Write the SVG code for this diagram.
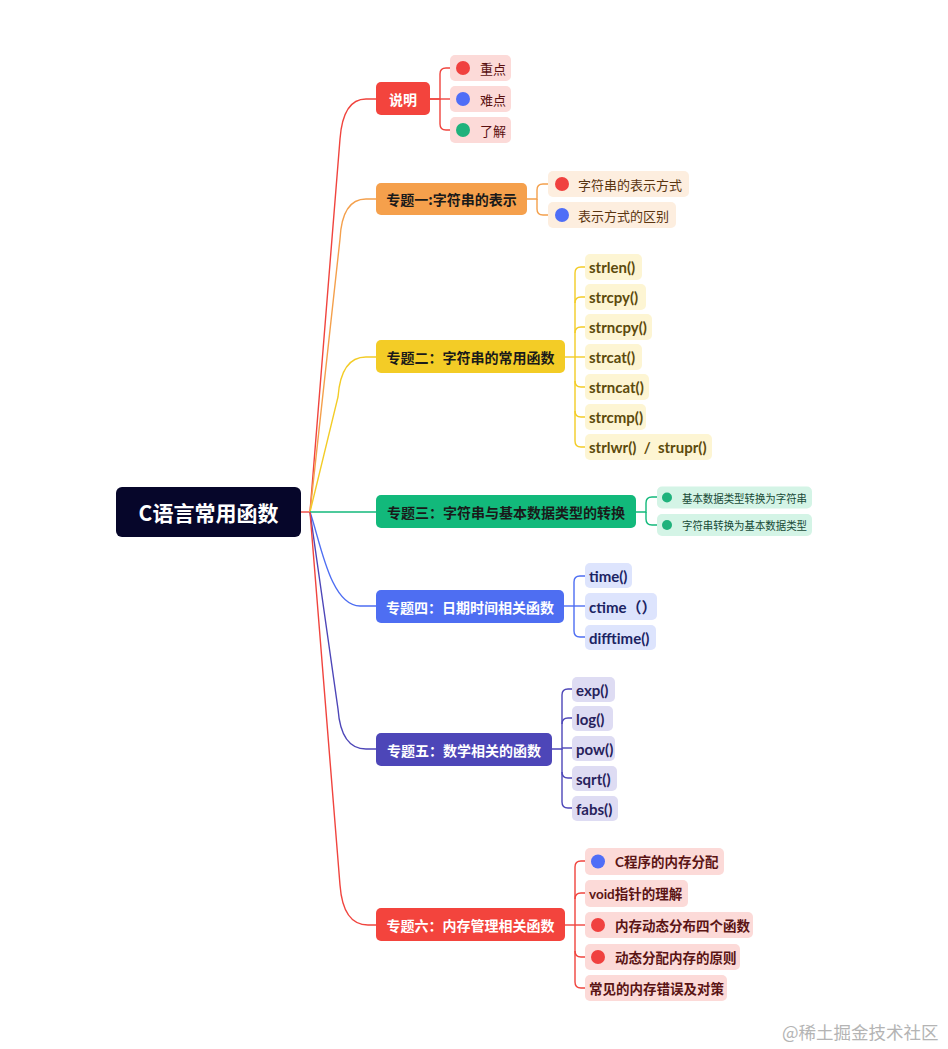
<svg xmlns="http://www.w3.org/2000/svg" width="948" height="1049" viewBox="0 0 948 1049">
<style>
.cjk{font-family:"Noto Sans CJK SC",sans-serif}
.lat{font-family:Lato,"Noto Sans CJK SC",sans-serif}
text{dominant-baseline:central}
.bt{font-size:14px;font-weight:700;text-anchor:middle}
.ct{font-size:13px}
.fn{font-size:15px;font-weight:700}
.ln{fill:none;stroke-width:1.4}
</style>
<rect width="948" height="1049" fill="#ffffff"/>
<g id="connectors">
  <path class="ln" stroke="#f0443e" d="M301 512 L310 512"/>
  <path class="ln" stroke="#f0443e" d="M310 512 L340 139 Q343 99 366 99 L376 99"/>
  <path class="ln" stroke="#f4a04c" d="M310 512 L340 239 Q342 199 366 199 L376 199"/>
  <path class="ln" stroke="#f3cc26" d="M310 512 L338 397 Q341 357 366 357 L376 357"/>
  <path class="ln" stroke="#12b97b" d="M310 512 L376 512"/>
  <path class="ln" stroke="#4e6ef2" d="M310 512 C320 540 330 606 360 606 L376 606"/>
  <path class="ln" stroke="#4d46b8" d="M310 512 L338 709 Q341 749 366 749 L376 749"/>
  <path class="ln" stroke="#f0443e" d="M310 512 L340 885 Q343 925 368 925 L376 925"/>
  <g stroke="#f0443e" class="ln">
    <path d="M430 99 L440 99 L440 74 Q440 68 446 68 L450 68"/>
    <path d="M430 99 L450 99"/>
    <path d="M440 99 L440 124 Q440 130 446 130 L450 130"/>
  </g>
  <g stroke="#f4a04c" class="ln">
    <path d="M527 199 L537 199 L537 190 Q537 184 543 184 L548 184"/>
    <path d="M537 199 L537 209 Q537 215 543 215 L548 215"/>
  </g>
  <g stroke="#f3cc26" class="ln">
    <path d="M565 357 L585 357"/>
    <path d="M575 357 L575 273 Q575 267 581 267 L585 267"/>
    <path d="M575 303 Q575 297 581 297 L585 297"/>
    <path d="M575 333 Q575 327 581 327 L585 327"/>
    <path d="M575 357 L575 441 Q575 447 581 447 L585 447"/>
    <path d="M575 381 Q575 387 581 387 L585 387"/>
    <path d="M575 411 Q575 417 581 417 L585 417"/>
  </g>
  <g stroke="#12b97b" class="ln">
    <path d="M636 512 L646 512 L646 503 Q646 497 652 497 L657 497"/>
    <path d="M646 512 L646 519 Q646 525 652 525 L657 525"/>
  </g>
  <g stroke="#4e6ef2" class="ln">
    <path d="M564 606 L585 606"/>
    <path d="M574 606 L574 582 Q574 576 580 576 L585 576"/>
    <path d="M574 606 L574 631 Q574 637 580 637 L585 637"/>
  </g>
  <g stroke="#4d46b8" class="ln">
    <path d="M552 749 L562 749 L562 695 Q562 689 568 689 L572 689"/>
    <path d="M562 724 Q562 718 568 718 L572 718"/>
    <path d="M562 748 L572 748"/>
    <path d="M562 749 L562 802 Q562 808 568 808 L572 808"/>
    <path d="M562 772 Q562 778 568 778 L572 778"/>
  </g>
  <g stroke="#f0443e" class="ln">
    <path d="M565 925 L585 925"/>
    <path d="M575 925 L575 867 Q575 861 581 861 L585 861"/>
    <path d="M575 899 Q575 893 581 893 L585 893"/>
    <path d="M575 925 L575 982 Q575 988 581 988 L585 988"/>
    <path d="M575 951 Q575 957 581 957 L585 957"/>
  </g>
</g>

<g id="root">
  <rect x="116" y="487" width="185" height="50" rx="6" fill="#06062a"/>
  <text x="208.5" y="512" class="cjk" font-size="21" font-weight="700" fill="#ffffff" text-anchor="middle">C语言常用函数</text>
</g>

<g id="shuoming">
  <rect x="376" y="82" width="54" height="33" rx="5" fill="#f3443d"/>
  <text x="403" y="98.5" class="cjk bt" fill="#ffffff">说明</text>
</g>
<g id="shuoming-1">
  <rect x="450" y="55" width="61" height="26" rx="5" fill="#fcdad8"/>
  <circle cx="463" cy="68" r="7" fill="#f0413f"/>
  <text x="480" y="68" class="cjk ct" fill="#5a1010">重点</text>
</g>
<g id="shuoming-2">
  <rect x="450" y="86" width="61" height="26" rx="5" fill="#fcdad8"/>
  <circle cx="463" cy="99" r="7" fill="#4f6ef7"/>
  <text x="480" y="99" class="cjk ct" fill="#5a1010">难点</text>
</g>
<g id="shuoming-3">
  <rect x="450" y="117" width="61" height="26" rx="5" fill="#fcdad8"/>
  <circle cx="463" cy="130" r="7" fill="#1fb27c"/>
  <text x="480" y="130" class="cjk ct" fill="#5a1010">了解</text>
</g>

<g id="t1">
  <rect x="376" y="183" width="151" height="32" rx="5" fill="#f5a04c"/>
  <text x="451.5" y="199" class="cjk bt" fill="#1a1a1a">专题一:字符串的表示</text>
</g>
<g id="t1-1">
  <rect x="548" y="171" width="141" height="26" rx="5" fill="#fdeedf"/>
  <circle cx="562" cy="184" r="7" fill="#f0413f"/>
  <text x="578" y="184" class="cjk ct" fill="#5a3510">字符串的表示方式</text>
</g>
<g id="t1-2">
  <rect x="548" y="202" width="128" height="26" rx="5" fill="#fdeedf"/>
  <circle cx="562" cy="215" r="7" fill="#4f6ef7"/>
  <text x="578" y="215" class="cjk ct" fill="#5a3510">表示方式的区别</text>
</g>

<g id="t2">
  <rect x="376" y="340" width="189" height="33" rx="5" fill="#f3cc26"/>
  <text x="470.5" y="356.5" class="cjk bt" fill="#1a1a1a">专题二：字符串的常用函数</text>
</g>
<g id="t2-1"><rect x="585" y="254" width="57" height="26" rx="5" fill="#fdf5d3"/><text x="589" y="267" class="lat fn" fill="#5c4a0c">strlen()</text></g>
<g id="t2-2"><rect x="585" y="284" width="61" height="26" rx="5" fill="#fdf5d3"/><text x="589" y="297" class="lat fn" fill="#5c4a0c">strcpy()</text></g>
<g id="t2-3"><rect x="585" y="314" width="67" height="26" rx="5" fill="#fdf5d3"/><text x="589" y="327" class="lat fn" fill="#5c4a0c">strncpy()</text></g>
<g id="t2-4"><rect x="585" y="344" width="57" height="26" rx="5" fill="#fdf5d3"/><text x="589" y="357" class="lat fn" fill="#5c4a0c">strcat()</text></g>
<g id="t2-5"><rect x="585" y="374" width="64" height="26" rx="5" fill="#fdf5d3"/><text x="589" y="387" class="lat fn" fill="#5c4a0c">strncat()</text></g>
<g id="t2-6"><rect x="585" y="404" width="61" height="26" rx="5" fill="#fdf5d3"/><text x="589" y="417" class="lat fn" fill="#5c4a0c">strcmp()</text></g>
<g id="t2-7"><rect x="585" y="434" width="127" height="26" rx="5" fill="#fdf5d3"/><text x="589" y="447" class="lat fn" fill="#5c4a0c" xml:space="preserve">strlwr()  /  strupr()</text></g>

<g id="t3">
  <rect x="376" y="495" width="260" height="33" rx="5" fill="#12b97b"/>
  <text x="506" y="511.5" class="cjk bt" fill="#1a1a1a">专题三：字符串与基本数据类型的转换</text>
</g>
<g id="t3-1">
  <rect x="657" y="486.5" width="155" height="22" rx="5" fill="#d4f4e6"/>
  <circle cx="667" cy="497.5" r="5" fill="#1fb27c"/>
  <text x="682" y="497.5" class="cjk" font-size="11" textLength="125" lengthAdjust="spacingAndGlyphs" fill="#174a36">基本数据类型转换为字符串</text>
</g>
<g id="t3-2">
  <rect x="657" y="514" width="155" height="22" rx="5" fill="#d4f4e6"/>
  <circle cx="667" cy="525" r="5" fill="#1fb27c"/>
  <text x="682" y="525" class="cjk" font-size="11" textLength="125" lengthAdjust="spacingAndGlyphs" fill="#174a36">字符串转换为基本数据类型</text>
</g>

<g id="t4">
  <rect x="376" y="590" width="188" height="33" rx="5" fill="#4e6ef2"/>
  <text x="470" y="606.5" class="cjk bt" fill="#ffffff">专题四：日期时间相关函数</text>
</g>
<g id="t4-1"><rect x="585" y="563" width="47" height="25" rx="5" fill="#dde4fd"/><text x="589" y="575.5" class="lat fn" fill="#1b2363">time()</text></g>
<g id="t4-2"><rect x="585" y="593" width="72" height="27" rx="5" fill="#dde4fd"/><text x="589" y="606.5" class="lat fn" fill="#1b2363">ctime（）</text></g>
<g id="t4-3"><rect x="585" y="625" width="71" height="25" rx="5" fill="#dde4fd"/><text x="589" y="637.5" class="lat fn" fill="#1b2363">difftime()</text></g>

<g id="t5">
  <rect x="376" y="733" width="176" height="33" rx="5" fill="#4d46b8"/>
  <text x="464" y="749.5" class="cjk bt" fill="#ffffff">专题五：数学相关的函数</text>
</g>
<g id="t5-1"><rect x="572" y="677" width="43" height="25" rx="5" fill="#dedcf3"/><text x="576" y="689.5" class="lat fn" fill="#27225c">exp()</text></g>
<g id="t5-2"><rect x="572" y="706" width="41" height="25" rx="5" fill="#dedcf3"/><text x="576" y="718.5" class="lat fn" fill="#27225c">log()</text></g>
<g id="t5-3"><rect x="572" y="736" width="43" height="25" rx="5" fill="#dedcf3"/><text x="576" y="748.5" class="lat fn" fill="#27225c">pow()</text></g>
<g id="t5-4"><rect x="572" y="766" width="45" height="25" rx="5" fill="#dedcf3"/><text x="576" y="778.5" class="lat fn" fill="#27225c">sqrt()</text></g>
<g id="t5-5"><rect x="572" y="796" width="46" height="25" rx="5" fill="#dedcf3"/><text x="576" y="808.5" class="lat fn" fill="#27225c">fabs()</text></g>

<g id="t6">
  <rect x="376" y="908" width="189" height="33" rx="5" fill="#f3443d"/>
  <text x="470.5" y="924.5" class="cjk bt" fill="#ffffff">专题六：内存管理相关函数</text>
</g>
<g id="t6-1">
  <rect x="585" y="848" width="139" height="27" rx="5" fill="#fcdad8"/>
  <circle cx="598" cy="861.5" r="7" fill="#4f6ef7"/>
  <text x="615" y="861.5" class="lat" font-size="13.5" font-weight="700" fill="#5a1414">C程序的内存分配</text>
</g>
<g id="t6-2">
  <rect x="585" y="880" width="103" height="27" rx="5" fill="#fcdad8"/>
  <text x="589" y="893.5" class="lat" font-size="13.5" font-weight="700" fill="#5a1414">void指针的理解</text>
</g>
<g id="t6-3">
  <rect x="585" y="912" width="168" height="26" rx="5" fill="#fcdad8"/>
  <circle cx="598" cy="925" r="7" fill="#f0413f"/>
  <text x="615" y="925" class="cjk" font-size="13.5" font-weight="700" fill="#5a1414">内存动态分布四个函数</text>
</g>
<g id="t6-4">
  <rect x="585" y="944" width="155" height="26" rx="5" fill="#fcdad8"/>
  <circle cx="598" cy="957" r="7" fill="#f0413f"/>
  <text x="615" y="957" class="cjk" font-size="13.5" font-weight="700" fill="#5a1414">动态分配内存的原则</text>
</g>
<g id="t6-5">
  <rect x="585" y="975" width="142" height="26" rx="5" fill="#fcdad8"/>
  <text x="589" y="988" class="cjk" font-size="13.5" font-weight="700" fill="#5a1414">常见的内存错误及对策</text>
</g>

<text x="782" y="1031" class="cjk" font-size="17.5" fill="#b4b4b4">@稀土掘金技术社区</text>
</svg>
